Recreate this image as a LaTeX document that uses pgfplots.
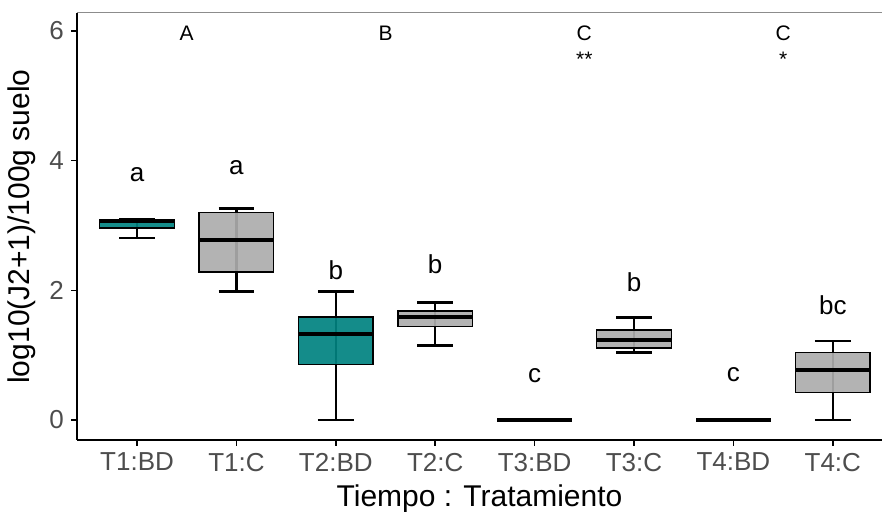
\documentclass[border=0pt]{standalone}
\usepackage{fontspec}
\setmainfont{Liberation Sans}
\usepackage{pgfplots}
\pgfplotsset{compat=1.18}
\usepgfplotslibrary{statistics}
\definecolor{tealfill}{HTML}{008280}
\definecolor{greyfill}{HTML}{ACACAC}
\definecolor{ticktext}{HTML}{4D4D4D}
\definecolor{frametop}{HTML}{8C8C8C}

\pgfplotsset{
  bx/.style={draw=black, line width=0.7pt, fill opacity=0.92,
    boxplot/draw direction=y,
    boxplot/every median/.style={line width=1.9pt},
    boxplot/every whisker/.style={line width=1.2pt},
    boxplot/every box/.style={line width=0.7pt}},
}

\begin{document}
\begin{tikzpicture}
\begin{axis}[
  at={(38.5pt,36pt)}, anchor=south west,
  scale only axis, width=402.5pt, height=213.5pt,
  xmin=0.396, xmax=8.495, ymin=-0.309, ymax=6.278,
  axis x line*=bottom, axis y line*=left,
  axis line style={line width=0.8pt, -},
  xtick={1,2,3,4,5,6,7,8},
  xticklabels={T1:BD,T1:C,T2:BD,T2:C,T3:BD,T3:C,T4:BD,T4:C},
  ytick={0,2,4,6},
  tick style={black, line width=0.8pt},
  tick align=outside, major tick length=3pt,
  ticklabel style={font=\fontsize{13}{15}\selectfont, text=ticktext},
  /pgf/number format/assume math mode=true,
  xlabel={Tiempo : Tratamiento},
  ylabel={log10(J2+1)/100g suelo},
  label style={font=\fontsize{15}{18}\selectfont},
  boxplot/draw direction=y,
  boxplot/box extend=0.75,
  boxplot/whisker extend=0.36,
]
% whisker lines under the boxes (show faintly through the fill)
\addplot[black, line width=1.2pt] coordinates {(1,2.81) (1,3.10)};
\addplot[black, line width=1.2pt] coordinates {(2,1.98) (2,3.26)};
\addplot[black, line width=1.2pt] coordinates {(3,0) (3,1.98)};
\addplot[black, line width=1.2pt] coordinates {(4,1.15) (4,1.81)};
\addplot[black, line width=1.2pt] coordinates {(6,1.04) (6,1.58)};
\addplot[black, line width=1.2pt] coordinates {(8,0) (8,1.22)};

\addplot[bx, fill=tealfill, boxplot prepared={draw position=1,
  lower whisker=2.81, lower quartile=2.96, median=3.06,
  upper quartile=3.09, upper whisker=3.10}] coordinates {};
\addplot[bx, fill=greyfill, boxplot prepared={draw position=2,
  lower whisker=1.98, lower quartile=2.28, median=2.78,
  upper quartile=3.20, upper whisker=3.26}] coordinates {};
\addplot[bx, fill=tealfill, boxplot prepared={draw position=3,
  lower whisker=0, lower quartile=0.86, median=1.32,
  upper quartile=1.59, upper whisker=1.98}] coordinates {};
\addplot[bx, fill=greyfill, boxplot prepared={draw position=4,
  lower whisker=1.15, lower quartile=1.44, median=1.59,
  upper quartile=1.68, upper whisker=1.81}] coordinates {};
\addplot[bx, fill=tealfill, boxplot prepared={draw position=5,
  lower whisker=0, lower quartile=0, median=0,
  upper quartile=0, upper whisker=0}] coordinates {};
\addplot[bx, fill=greyfill, boxplot prepared={draw position=6,
  lower whisker=1.04, lower quartile=1.11, median=1.23,
  upper quartile=1.39, upper whisker=1.58}] coordinates {};
\addplot[bx, fill=tealfill, boxplot prepared={draw position=7,
  lower whisker=0, lower quartile=0, median=0,
  upper quartile=0, upper whisker=0}] coordinates {};
\addplot[bx, fill=greyfill, boxplot prepared={draw position=8,
  lower whisker=0, lower quartile=0.42, median=0.77,
  upper quartile=1.04, upper whisker=1.22}] coordinates {};

% group letters
\begin{scope}[every node/.style={font=\fontsize{13}{15}\selectfont, inner sep=0pt}]
\node at (axis cs:1,3.79) {a};
\node at (axis cs:2,3.89) {a};
\node at (axis cs:3,2.31) {b};
\node at (axis cs:4,2.41) {b};
\node at (axis cs:5,0.69) {c};
\node at (axis cs:6,2.12) {b};
\node at (axis cs:7,0.70) {c};
\node at (axis cs:8,1.77) {bc};
\end{scope}
\begin{scope}[every node/.style={font=\fontsize{10.5}{12}\selectfont, inner sep=0pt}]
\node at (axis cs:1.5,5.97) {A};
\node at (axis cs:3.5,5.97) {B};
\node at (axis cs:5.5,5.97) {C};
\node at (axis cs:7.5,5.97) {C};
\node at (axis cs:5.5,5.57) {**};
\node at (axis cs:7.5,5.57) {*};
\end{scope}
\draw[frametop, line width=0.5pt] (rel axis cs:0,1) -- (rel axis cs:1,1);
\end{axis}
\pgfresetboundingbox
\path[use as bounding box] (0,0) rectangle (441pt,256pt);
\end{tikzpicture}
\end{document}
